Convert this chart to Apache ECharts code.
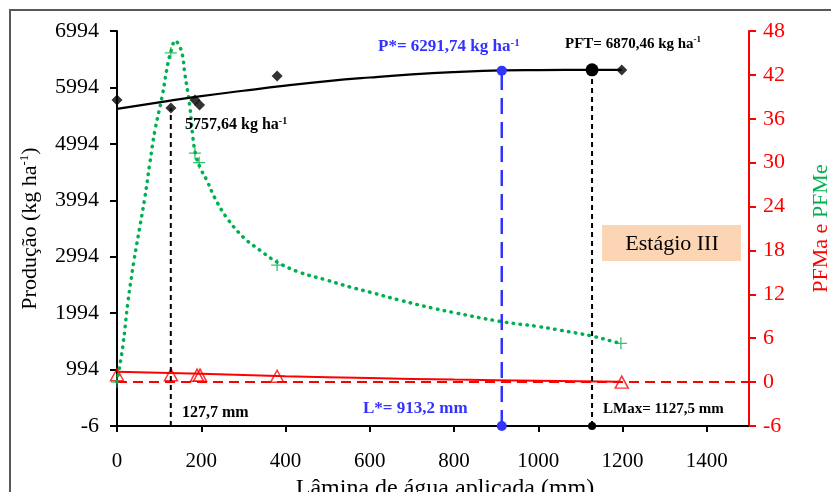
<!DOCTYPE html>
<html>
<head>
<meta charset="utf-8">
<script src="https://cdn.jsdelivr.net/npm/echarts@6/dist/echarts.min.js"></script>
<style>
  html, body { margin: 0; background: #fff; }
  #chart { width: 831px; height: 492px; }
</style>
</head>
<body>
<div id="chart"></div>
<script>
// --- dados ---
const xTicks = [0, 200, 400, 600, 800, 1000, 1200, 1400];

// Produção (kg ha-1) observada
const prodX = [0, 128, 185, 196, 380, 1198];
const prodY = [5771, 5629, 5771, 5683, 6196, 6302];

// curva ajustada da produção
const trendX = [0, 100, 200, 300, 400, 500, 600, 700, 800, 913.2, 1000, 1127.5, 1198];
const trendY = [5615, 5730, 5840, 5935, 6025, 6105, 6170, 6225, 6265, 6295, 6302, 6306, 6304];

// PFMe observada (eixo direito)
const pfmeX = [0, 127.7, 185, 195, 380, 1196];
const pfmeY = [0, 45, 31.3, 30, 16, 5.3];

// PFMe ajustada
const pfmeFitX = [0, 14, 26, 40, 55, 66, 78, 90, 107, 121, 130, 138, 146, 155, 161, 173, 180, 188, 200, 213, 232, 260, 300, 340, 380, 434, 500, 553, 600, 671, 750, 800, 909, 1000, 1051, 1127, 1181, 1196];
const pfmeFitY = [0, 5, 11, 16.5, 21.5, 25.2, 30, 34.4, 39, 43.6, 45.6, 46.7, 46.2, 44.8, 42.2, 37.6, 33.5, 30.8, 29, 27.6, 25.2, 22.5, 19.8, 18, 16.4, 15, 13.9, 13, 12.3, 11.2, 10.1, 9.5, 8.3, 7.6, 7.1, 6.3, 5.5, 5.3];

// PFMa observada e ajustada
const pfmaX = [0, 128, 190, 197, 380, 1198];
const pfmaY = [1.0, 1.0, 0.95, 0.95, 0.8, 0.0];
const pfmaFitX = [0, 200, 400, 600, 800, 1000, 1196];
const pfmaFitY = [1.4, 1.15, 0.8, 0.55, 0.35, 0.2, 0.05];

// pontos de referência
const lMin = 127.7, pMin = 5629;
const lStar = 913.2, pStar = 6291.74;
const lMax = 1127.5, pMax = 6306;

const zip = (a, b) => a.map((v, i) => [v, b[i]]);

const serif = 'Liberation Serif, Times New Roman, serif';
const blue = '#3333ff';
const green = '#00b050';
const red = '#ff0000';

// texto em negrito com sobrescrito opcional, (x, y) = canto esquerdo, meio da linha
function note(x, y, text, size, color, sup) {
  const t = sup ? `{b|${text}}{s|-1}` : `{b|${text}}`;
  return {
    type: 'text', x: x, y: y, z: 20,
    style: {
      text: t, align: 'left', verticalAlign: 'middle',
      rich: {
        b: { fontFamily: serif, fontWeight: 'bold', fontSize: size, fill: color, lineHeight: size + 2 },
        s: { fontFamily: serif, fontWeight: 'bold', fontSize: Math.round(size * 0.62), fill: color, verticalAlign: 'top', lineHeight: size + 2 }
      }
    }
  };
}

const chart = echarts.init(document.getElementById('chart'));

chart.setOption({
  animation: false,
  grid: { left: 117, right: 82, top: 31, bottom: 66, containLabel: false, outerBoundsMode: 'none' },
  xAxis: {
    type: 'value', min: 0, max: 1500,
    name: 'Lâmina de água aplicada (mm)',
    nameLocation: 'middle', nameGap: 48,
    nameTextStyle: { fontFamily: serif, fontSize: 24, color: '#000', padding: [0, 0, 0, 24] },
    axisLine: { lineStyle: { color: '#000', width: 2 } },
    axisTick: { length: 6, lineStyle: { color: '#000', width: 2 }, customValues: xTicks },
    axisLabel: { fontFamily: serif, fontSize: 21, color: '#000', margin: 25, customValues: xTicks, formatter: v => String(v) },
    splitLine: { show: false }
  },
  yAxis: [
    {
      type: 'value', min: 0, max: 7000, interval: 1000, position: 'left',
      name: '{a|Produção (kg ha}{s|-1}{a|)}',
      nameLocation: 'middle', nameGap: 75,
      nameTextStyle: {
        rich: {
          a: { fontFamily: serif, fontSize: 22, color: '#000', lineHeight: 24 },
          s: { fontFamily: serif, fontSize: 13, color: '#000', verticalAlign: 'top', lineHeight: 24 }
        }
      },
      axisLine: { show: true, lineStyle: { color: '#000', width: 2 } },
      axisTick: { show: true, length: 7, lineStyle: { color: '#000', width: 2 } },
      axisLabel: { fontFamily: serif, fontSize: 22, color: '#000', margin: 18, formatter: v => String(v - 6) },
      splitLine: { show: false }
    },
    { type: 'value', min: -6, max: 6994, show: false },
    {
      type: 'value', min: -6, max: 48, interval: 6, position: 'right',
      name: '{r|PFMa e }{g|PFMe}',
      nameLocation: 'middle', nameGap: 61,
      nameTextStyle: {
        rich: {
          r: { fontFamily: serif, fontSize: 22, color: red },
          g: { fontFamily: serif, fontSize: 22, color: green }
        }
      },
      axisLine: { show: true, lineStyle: { color: red, width: 2 } },
      axisTick: { show: true, length: 7, lineStyle: { color: red, width: 2 } },
      axisLabel: { fontFamily: serif, fontSize: 22, color: red, margin: 14 },
      splitLine: { show: false }
    }
  ],
  series: [
    {
      type: 'line', yAxisIndex: 2, data: [[0, 0], [1500, 0]], symbol: 'none',
      lineStyle: { color: red, width: 2, type: [10, 6] }
    },
    {
      type: 'line', yAxisIndex: 2, data: zip(pfmaFitX, pfmaFitY), symbol: 'none', smooth: true,
      lineStyle: { color: red, width: 2 }
    },
    {
      type: 'scatter', yAxisIndex: 2, data: zip(pfmaX, pfmaY), symbol: 'triangle', symbolSize: [13, 12],
      itemStyle: { color: 'rgba(255,255,255,0)', borderColor: red, borderWidth: 1.5 }
    },
    {
      type: 'line', yAxisIndex: 2, data: zip(pfmeFitX, pfmeFitY), symbol: 'none', smooth: 0.4,
      lineStyle: { color: green, width: 3.5, type: [0.5, 6.5], cap: 'round' }
    },
    {
      type: 'scatter', yAxisIndex: 2, data: zip(pfmeX, pfmeY),
      symbol: 'path://M0,5L10,5M5,0L5,10', symbolSize: 12,
      itemStyle: { color: 'none', borderColor: green, borderWidth: 1.3 }
    },
    {
      type: 'line', yAxisIndex: 1, data: zip(trendX, trendY), symbol: 'none', smooth: true,
      lineStyle: { color: '#000', width: 2.2 }
    },
    {
      type: 'scatter', yAxisIndex: 1, data: zip(prodX, prodY), symbol: 'diamond', symbolSize: 11,
      itemStyle: { color: '#000' }
    },
    {
      type: 'line', yAxisIndex: 1, data: [[lMin, -6], [lMin, pMin]], symbol: 'none',
      lineStyle: { color: '#000', width: 2, type: [5, 4] }
    },
    {
      type: 'line', yAxisIndex: 1, data: [[lStar, -6], [lStar, pStar]], symbol: 'circle', symbolSize: 10,
      clip: false, itemStyle: { color: blue }, lineStyle: { color: blue, width: 2.5, type: [16, 8] }
    },
    {
      type: 'line', yAxisIndex: 1, clip: false,
      data: [{ value: [lMax, -6], symbolSize: 8 }, { value: [lMax, pMax], symbolSize: 13 }],
      symbol: 'circle', itemStyle: { color: '#000' }, lineStyle: { color: '#000', width: 2, type: [5, 4] }
    }
  ],
  graphic: [
    { type: 'rect', shape: { x: 10, y: 10, width: 840, height: 520 }, style: { fill: 'none', stroke: '#595959', lineWidth: 2 }, silent: true },
    { type: 'rect', shape: { x: 602, y: 225, width: 139, height: 36 }, style: { fill: '#fcd5b5' }, z: 10 },
    {
      type: 'text', x: 672, y: 244, z: 11,
      style: { text: 'Estágio III', fontFamily: serif, fontSize: 22, fill: '#000', align: 'center', verticalAlign: 'middle' }
    },
    note(378, 47, 'P*= 6291,74 kg ha', 17, blue, true),
    note(565, 44, 'PFT= 6870,46 kg ha', 15, '#000', true),
    note(185, 125, '5757,64 kg ha', 16, '#000', true),
    note(182, 413, '127,7 mm', 16, '#000', false),
    note(363, 409, 'L*= 913,2 mm', 17, blue, false),
    note(603, 409, 'LMax= 1127,5 mm', 15, '#000', false)
  ]
});
</script>
</body>
</html>
